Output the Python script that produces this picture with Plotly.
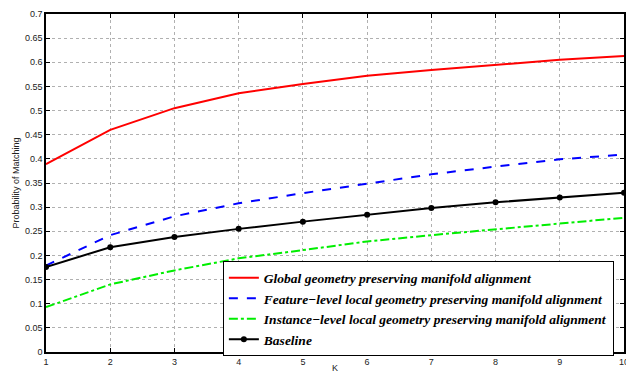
import plotly.graph_objects as go

K = [1, 2, 3, 4, 5, 6, 7, 8, 9, 10]
global_vals = [0.389, 0.460, 0.505, 0.536, 0.555, 0.572, 0.584, 0.594, 0.605, 0.613]
feature_vals = [0.179, 0.242, 0.281, 0.308, 0.329, 0.349, 0.368, 0.384, 0.399, 0.409]
instance_vals = [0.093, 0.140, 0.169, 0.194, 0.211, 0.229, 0.242, 0.254, 0.266, 0.278]
baseline_vals = [0.176, 0.217, 0.238, 0.255, 0.270, 0.284, 0.298, 0.310, 0.320, 0.330]
names = [
    "Global geometry preserving manifold alignment",
    "Feature\u2212level local geometry preserving manifold alignment",
    "Instance\u2212level local geometry preserving manifold alignment",
    "Baseline",
]
y_ticks = [0, 0.05, 0.1, 0.15, 0.2, 0.25, 0.3, 0.35, 0.4, 0.45, 0.5, 0.55, 0.6, 0.65, 0.7]
y_ticktext = ["0", "0.05", "0.1", "0.15", "0.2", "0.25", "0.3", "0.35", "0.4", "0.45",
              "0.5", "0.55", "0.6", "0.65", "0.7"]

fig = go.Figure()
fig.add_trace(go.Scatter(x=K, y=global_vals, name=names[0], mode="lines",
                         line=dict(color="#ff0000", width=2)))
fig.add_trace(go.Scatter(x=K, y=feature_vals, name=names[1], mode="lines",
                         line=dict(color="#0000ff", width=2, dash="dash")))
fig.add_trace(go.Scatter(x=K, y=instance_vals, name=names[2], mode="lines",
                         line=dict(color="#00ee00", width=2, dash="dashdot")))
fig.add_trace(go.Scatter(x=K, y=baseline_vals, name=names[3], mode="lines+markers",
                         line=dict(color="#000000", width=2),
                         marker=dict(color="#000000", size=6, symbol="circle")))

axis_common = dict(
    showline=True, linecolor="black", linewidth=1.5, mirror="ticks",
    ticks="inside", ticklen=4, tickcolor="black",
    showgrid=True, gridcolor="#b0b0b0", griddash="dot", gridwidth=1,
    zeroline=False, automargin=False,
    tickfont=dict(family="Liberation Sans, Arial", size=9, color="#222"),
    ticklabeloverflow="allow",
)

fig.update_layout(
    width=626, height=373,
    margin=dict(l=46, r=2, t=14, b=21),
    paper_bgcolor="white", plot_bgcolor="white",
    xaxis=dict(range=[1, 10], tickvals=K, title=dict(text="K", standoff=2,
               font=dict(family="Liberation Sans, Arial", size=9, color="#222")),
               **axis_common),
    yaxis=dict(range=[0, 0.7], tickvals=y_ticks, ticktext=y_ticktext,
               title=dict(text="Probability of Matching", standoff=4,
                          font=dict(family="Liberation Sans, Arial", size=9, color="#222")),
               **axis_common),
    legend=dict(
        x=0.306, y=0.268, xanchor="left", yanchor="top",
        bgcolor="white", bordercolor="black", borderwidth=1,
        font=dict(family="Liberation Serif, Times New Roman", size=13.5, color="black",
                  style="italic", weight="bold"),
        itemwidth=30, tracegroupgap=0,
    ),
    showlegend=True,
)

fig.write_html("out.html")
